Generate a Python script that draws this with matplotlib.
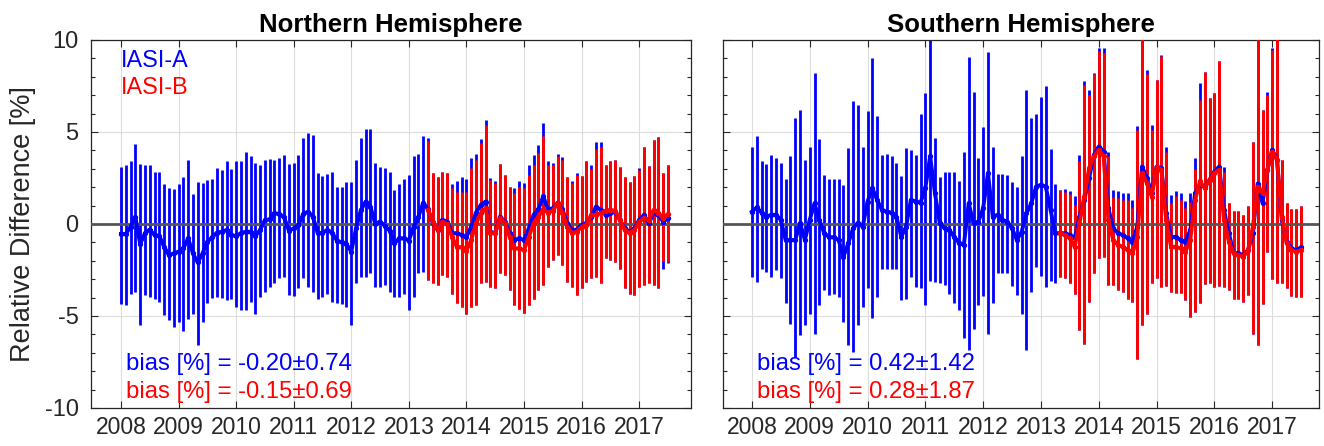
import numpy as np
import matplotlib
matplotlib.use("Agg")
import matplotlib.pyplot as plt
from matplotlib.ticker import MultipleLocator

plt.rcParams['font.family'] = ['Liberation Sans', 'DejaVu Sans']
plt.rcParams['axes.unicode_minus'] = False

# monthly samples: IASI-A Jan 2008 .. Jul 2017, IASI-B May 2013 .. Jul 2017
a_start, b_start = 2008.0, 2013 + 4 / 12
years = list(range(2008, 2018))

# ---------------- Northern Hemisphere ----------------
nh_a_top = [
    3.12, 3.2, 3.4, 4.36, 3.27, 3.18, 3.2, 2.85, 2.8, 2.2, 1.94, 1.9,
    2.2, 2.55, 3.5, 1.63, 2.3, 2.25, 2.4, 2.45, 3.03, 2.95, 3.4, 3.0,
    3.45, 3.45, 3.9, 3.7, 3.34, 3.18, 3.5, 3.52, 3.5, 3.58, 3.76, 3.27,
    3.3, 3.76, 4.67, 4.94, 4.85, 2.76, 2.6, 2.72, 2.8, 2.0, 2.03, 2.3,
    2.3, 3.5, 4.67, 5.16, 5.16, 3.34, 3.12, 3.03, 2.85, 1.85, 2.18, 2.43,
    2.67, 3.67, 3.8, 4.8, 4.67, 2.76, 2.58, 2.85, 2.76, 2.18, 2.36, 2.54,
    2.47, 3.6, 3.81, 4.63, 5.67, 2.5, 2.33, 3.27, 2.65, 2.03, 1.94, 2.36,
    2.25, 3.2, 3.76, 4.3, 5.49, 3.45, 3.34, 3.81, 3.63, 2.58, 2.34, 2.76,
    2.62, 3.4, 3.2, 4.45, 4.43, 3.2, 3.4, 3.49, 3.09, 2.54, 2.3, 2.62,
    3.03, 4.21, 3.16, 4.58, 4.72, 2.76, 3.2]
nh_a_bot = [
    -4.33, -4.4, -3.8, -3.7, -5.5, -3.87, -3.96, -4.05, -4.23, -4.96, -5.2, -5.6,
    -5.3, -5.8, -5.15, -4.87, -6.6, -5.3, -4.3, -4.0, -3.96, -4.0, -4.14, -4.05,
    -4.5, -4.7, -4.7, -4.23, -4.87, -3.96, -3.7, -3.4, -3.23, -2.96, -2.87, -3.87,
    -3.9, -3.5, -2.96, -3.4, -3.7, -4.05, -3.96, -3.8, -4.23, -4.29, -4.33, -4.5,
    -5.5, -3.23, -2.87, -2.87, -2.69, -3.4, -3.4, -3.32, -3.7, -3.96, -3.96, -3.78,
    -4.65, -3.96, -2.69, -2.6, -3.05, -3.23, -3.32, -2.78, -2.87, -3.78, -4.32, -4.5,
    -4.87, -4.5, -4.41, -3.23, -3.14, -3.41, -3.5, -2.69, -2.78, -3.6, -4.41, -4.6,
    -4.83, -4.41, -4.05, -3.6, -3.32, -2.33, -1.96, -1.69, -2.23, -3.14, -3.41, -3.87,
    -3.5, -3.14, -2.96, -2.87, -3.23, -1.87, -1.93, -2.05, -2.47, -3.5, -3.78, -3.87,
    -3.41, -3.32, -3.23, -3.32, -3.5, -2.42, -2.14]
nh_a_mean = [
    -0.54, -0.54, -0.15, 0.4, -1.09, -0.5, -0.3, -0.6, -0.65, -1.24, -1.69, -1.6,
    -1.5, -1.33, -0.78, -1.6, -2.09, -1.6, -0.96, -0.73, -0.47, -0.42, -0.33, -0.6,
    -0.65, -0.5, -0.42, -0.42, -0.65, -0.33, 0.22, 0.25, 0.58, 0.55, 0.36, -0.36,
    -0.24, -0.05, 0.55, 0.67, 0.4, -0.5, -0.47, -0.33, -0.47, -0.9, -1.0, -1.09,
    -1.5, -0.24, 0.76, 1.22, 0.94, 0.0, 0.13, -0.1, -0.36, -1.05, -0.78, -0.78,
    -0.9, -0.15, 0.4, 1.16, 0.8, 0.04, -0.3, 0.22, 0.13, -0.5, -0.5, -0.6,
    -0.7, -0.15, 0.62, 1.04, 1.22, -0.42, -0.5, 0.4, 0.13, -0.5, -0.87, -0.78,
    -0.87, -0.24, 0.5, 0.8, 1.5, 0.8, 0.85, 1.16, 0.8, 0.04, -0.33, -0.3,
    -0.05, 0.04, 0.4, 0.94, 0.76, 0.5, 0.58, 0.67, 0.22, -0.24, -0.42, -0.24,
    0.22, 0.5, 0.04, 0.58, 0.5, 0.13, 0.3]
nh_b_top = [
    4.49, 2.76, 2.58, 2.85, 2.76, 1.94, 1.76, 1.76,
    1.76, 3.03, 3.49, 4.4, 5.4, 2.4, 2.25, 3.27, 2.65, 2.03, 1.67, 2.03,
    1.94, 2.67, 3.2, 3.85, 4.76, 3.2, 3.2, 3.67, 3.49, 2.58, 2.25, 2.67,
    2.62, 3.4, 2.98, 4.07, 4.18, 3.2, 3.4, 3.49, 3.09, 2.54, 2.3, 2.62,
    2.94, 4.21, 3.16, 4.58, 4.72, 2.76, 3.2]
nh_b_bot = [
    -3.05, -3.23, -3.32, -2.78, -2.87, -3.78, -4.32, -4.5,
    -4.87, -4.5, -4.41, -3.23, -3.14, -3.41, -3.5, -2.69, -2.78, -3.6, -4.41, -4.6,
    -4.83, -4.41, -4.05, -3.6, -3.32, -2.33, -1.96, -1.69, -2.23, -3.14, -3.41, -3.87,
    -3.5, -3.14, -2.96, -2.87, -3.23, -1.87, -1.93, -2.05, -2.47, -3.5, -3.78, -3.87,
    -3.41, -3.32, -3.23, -3.32, -3.5, -2.0, -2.05]
nh_b_mean = [
    0.76, 0.13, -0.33, 0.13, 0.0, -0.7, -1.24, -1.27,
    -1.45, -0.87, 0.04, 0.58, 0.85, -0.5, -0.5, 0.3, 0.04, -0.7, -1.33, -1.33,
    -1.42, -0.7, 0.04, 0.4, 0.8, 0.62, 0.73, 1.13, 0.62, -0.15, -0.5, -0.42,
    -0.15, -0.05, 0.5, 0.5, 0.58, 0.73, 0.76, 0.73, 0.22, -0.33, -0.5, -0.33,
    0.13, 0.3, 0.22, 0.76, 0.62, 0.3, 0.55]
nh_bias = ["bias [%] = -0.20\u00b10.74", "bias [%] = -0.15\u00b10.69"]

# ---------------- Southern Hemisphere ----------------
sh_a_top = [
    4.18, 4.76, 3.4, 3.27, 3.76, 3.58, 3.3, 2.45, 3.67, 5.76, 6.18, 3.49,
    4.2, 8.21, 4.6, 2.67, 2.43, 2.43, 2.43, 2.13, 4.12, 6.7, 6.49, 4.2,
    6.12, 9.03, 5.85, 3.76, 3.81, 3.72, 3.34, 2.62, 4.12, 4.03, 3.76, 5.99,
    7.12, 10.5, 4.67, 2.58, 2.8, 2.82, 2.83, 2.33, 3.89, 9.08, 7.16, 3.58,
    5.25, 9.34, 4.2, 2.72, 2.72, 2.67, 2.3, 2.03, 3.7, 7.3, 5.76, 5.98,
    6.9, 7.48, 4.1, 2.2, 1.85, 1.89, 1.82, 1.53, 3.76, 7.79, 7.3, 8.2,
    9.57, 9.57, 3.94, 1.85, 1.82, 1.71, 1.67, 1.31, 5.3, 10.5, 8.36, 5.4,
    7.85, 9.2, 4.2, 1.58, 1.82, 1.71, 1.27, 1.67, 3.58, 7.67, 8.25, 6.85,
    7.12, 8.85, 3.12, 1.16, 0.73, 0.73, 0.49, 0.98, 4.43, 10.5, 6.21, 7.19,
    9.57, 10.5, 3.49, 1.13, 0.82, 0.82, 0.98]
sh_a_bot = [
    -2.9, -3.14, -2.47, -2.6, -2.87, -2.51, -2.96, -4.32, -5.45, -7.23, -6.05, -5.5,
    -4.87, -5.96, -4.41, -3.6, -3.87, -3.78, -3.96, -5.3, -6.6, -6.96, -5.5, -4.5,
    -3.5, -5.09, -3.96, -2.42, -2.42, -2.47, -2.42, -4.14, -4.1, -2.87, -3.41, -3.5,
    -4.41, -3.09, -3.14, -3.23, -3.32, -3.78, -4.32, -4.69, -6.18, -6.87, -5.69, -4.41,
    -3.92, -5.96, -4.32, -2.65, -2.65, -2.69, -3.38, -3.87, -4.87, -6.87, -3.69, -2.33,
    -2.8, -3.4, -3.1, -3.2, -2.87, -2.96, -3.2, -3.78, -5.78, -6.5, -4.23, -2.69,
    -1.87, -1.78, -3.32, -3.32, -3.6, -3.69, -4.05, -4.23, -7.32, -5.5, -4.87, -3.23,
    -2.96, -3.41, -3.38, -3.69, -3.74, -3.74, -4.14, -5.05, -4.8, -4.3, -3.27, -3.23,
    -3.41, -3.38, -3.41, -3.6, -4.05, -4.1, -4.23, -3.87, -5.96, -6.6, -4.36, -1.5,
    -3.0, -3.23, -3.23, -3.5, -3.9, -3.96, -3.96]
sh_a_mean = [
    0.67, 0.9, 0.62, 0.4, 0.5, 0.5, 0.22, -0.87, -0.87, -0.87, 0.04, -0.87,
    0.22, 1.13, 0.22, -0.5, -0.7, -0.73, -0.87, -1.78, -1.05, -0.24, 0.07, -0.15,
    1.22, 1.94, 1.31, 0.76, 0.67, 0.62, 0.4, -0.7, -0.15, 1.31, 1.22, 1.16,
    1.94, 3.67, 1.67, 0.04, -0.24, -0.33, -0.7, -1.02, -1.14, 1.13, 0.04, 0.13,
    0.85, 2.76, 0.4, 0.5, 0.22, 0.13, -0.24, -0.87, -0.42, 0.58, 1.13, 2.03,
    2.13, 2.03, 0.76, -0.5, -0.5, -0.5, -0.6, -0.78, 0.4, 1.31, 2.49, 3.76,
    4.21, 3.94, 0.85, -0.24, -0.5, -0.6, -0.78, -0.96, -0.15, 3.12, 2.49, 1.67,
    3.12, 3.03, 0.58, -0.7, -0.7, -0.87, -0.96, -0.33, 1.67, 2.13, 2.03, 2.4,
    2.85, 3.12, 0.76, -0.5, -1.56, -1.6, -1.69, -1.42, -0.5, 2.2, 1.13, 2.94,
    4.03, 3.49, 0.22, -0.96, -1.33, -1.42, -1.27]
sh_b_top = [
    1.85, 1.76, 1.65, 1.04, 3.4, 7.57, 7.03, 8.16,
    9.39, 9.3, 3.67, 1.49, 1.4, 1.31, 1.31, 0.85, 5.12, 10.5, 8.17, 5.12,
    7.85, 9.12, 3.94, 1.16, 1.53, 1.31, 0.85, 1.22, 2.98, 6.76, 8.25, 6.85,
    7.12, 8.85, 2.85, 1.16, 0.73, 0.73, 0.49, 0.98, 4.43, 10.5, 6.21, 7.03,
    9.45, 10.5, 3.49, 1.13, 0.82, 0.82, 0.98]
sh_b_bot = [
    -2.87, -2.96, -3.2, -3.78, -5.78, -6.5, -4.23, -2.69,
    -1.87, -1.78, -3.32, -3.32, -3.6, -3.69, -4.05, -4.23, -7.32, -5.5, -4.87, -3.23,
    -2.96, -3.41, -3.38, -3.69, -3.74, -3.74, -4.14, -5.05, -4.8, -4.3, -3.27, -3.23,
    -3.41, -3.38, -3.41, -3.6, -4.05, -4.1, -4.23, -3.87, -5.96, -6.6, -4.36, -1.5,
    -3.0, -3.23, -3.23, -3.5, -3.9, -3.96, -3.96]
sh_b_mean = [
    -0.5, -0.6, -0.78, -1.24, 0.04, 1.49, 3.03, 3.67,
    4.03, 3.67, 0.22, -0.87, -1.14, -1.24, -1.42, -1.6, -0.7, 2.76, 2.22, 1.49,
    3.12, 2.94, 0.22, -1.24, -1.24, -1.33, -1.5, -0.87, 1.31, 2.31, 1.94, 2.4,
    2.76, 2.94, 0.22, -0.96, -1.6, -1.69, -1.78, -1.42, -0.15, 2.03, 1.67, 2.94,
    3.94, 3.49, 0.4, -1.05, -1.42, -1.5, -1.42]
sh_bias = ["bias [%] = 0.42\u00b11.42", "bias [%] = 0.28\u00b11.87"]

BLUE, RED = '#0000ff', '#ff0000'
AXC = '#262626'


def month_axis(start, n):
    return start + np.arange(n) / 12.0


def draw_panel(ax, a_top, a_bot, a_mean, b_top, b_bot, b_mean, bias, title,
               xlim, legend):
    xa = month_axis(a_start, len(a_top))
    xb = month_axis(b_start, len(b_top))
    ax.vlines(xa, a_bot, a_top, color=BLUE, lw=2.0, zorder=2)
    ax.vlines(xb, b_bot, b_top, color=RED, lw=2.1, zorder=3)
    ax.axhline(0, color='#555555', lw=2.0, zorder=4)
    ax.plot(xa, a_mean, color=BLUE, lw=2.8, marker='o', ms=2.8, zorder=5)
    ax.plot(xb, b_mean, color=RED, lw=2.8, marker='o', ms=2.8, zorder=6)

    ax.set_xlim(*xlim)
    ax.set_ylim(-10, 10)
    ax.set_xticks(years)
    ax.set_yticks([-10, -5, 0, 5, 10])
    ax.yaxis.set_minor_locator(MultipleLocator(1))
    ax.grid(True, which='major', color='#dcdcdc', lw=0.8, zorder=0)
    ax.set_axisbelow(True)
    ax.tick_params(which='both', direction='in', top=True, right=True,
                   colors=AXC)
    ax.tick_params(which='major', length=5, width=0.8)
    ax.tick_params(which='minor', length=3, width=0.8)
    ax.tick_params(axis='x', pad=6, labelsize=16.5)
    ax.tick_params(axis='y', pad=9, labelsize=17)
    for sp in ax.spines.values():
        sp.set_color(AXC)
        sp.set_linewidth(0.9)
    ax.set_title(title, fontsize=18.5, fontweight='bold', pad=6)

    if legend:
        ax.text(2008.0, 8.9, 'IASI-A', color=BLUE, fontsize=16.8, va='center')
        ax.text(2008.0, 7.4, 'IASI-B', color=RED, fontsize=16.8, va='center')
    ax.text(2008.08, -7.63, bias[0], color=BLUE, fontsize=17.2, va='center')
    ax.text(2008.08, -9.15, bias[1], color=RED, fontsize=17.2, va='center')


fig = plt.figure(figsize=(13.24, 4.46), dpi=100)
ax1 = fig.add_axes([91 / 1324, 38 / 446, 600 / 1324, 368 / 446])
ax2 = fig.add_axes([723 / 1324, 38 / 446, 596 / 1324, 368 / 446])

draw_panel(ax1, nh_a_top, nh_a_bot, nh_a_mean, nh_b_top, nh_b_bot, nh_b_mean,
           nh_bias, 'Northern Hemisphere', (2007.48, 2017.9), True)
draw_panel(ax2, sh_a_top, sh_a_bot, sh_a_mean, sh_b_top, sh_b_bot, sh_b_mean,
           sh_bias, 'Southern Hemisphere', (2007.5, 2017.81), False)
ax2.tick_params(labelleft=False)
ax1.set_ylabel('Relative Difference [%]', fontsize=19.5, color=AXC, labelpad=6)

fig.savefig('out.png', dpi=100)
